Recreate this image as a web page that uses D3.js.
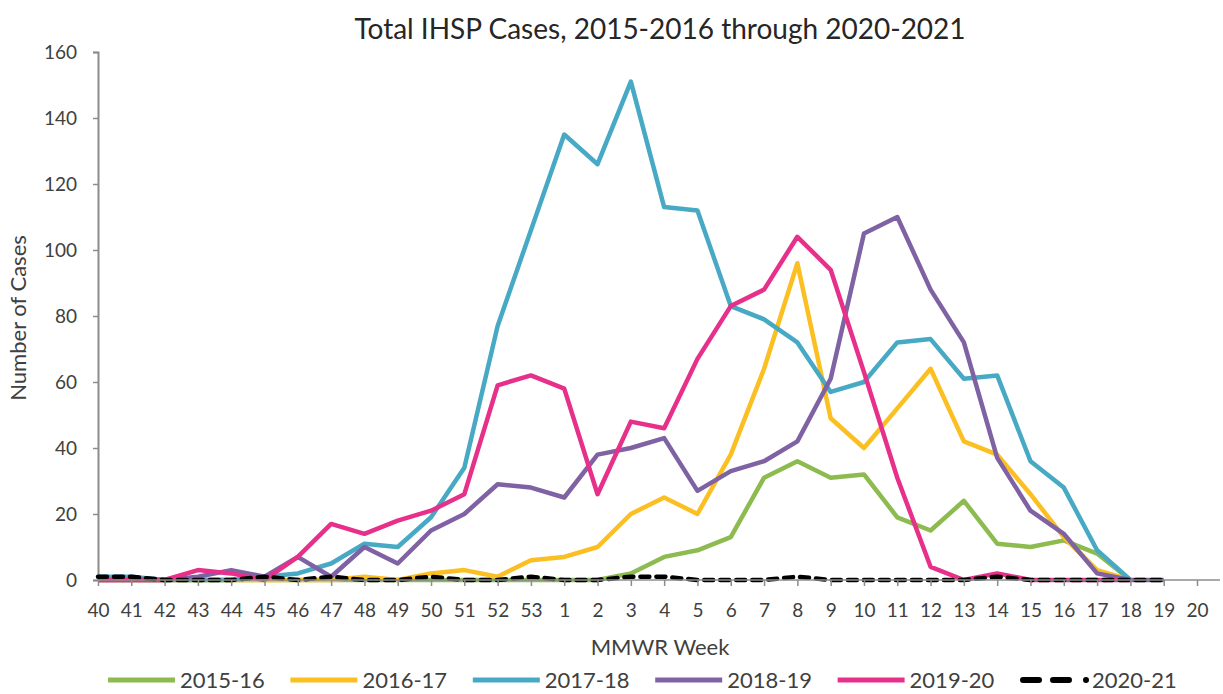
<!DOCTYPE html>
<html>
<head>
<meta charset="utf-8">
<script src="https://cdn.jsdelivr.net/npm/d3@7/dist/d3.min.js"></script>
<style>
  html, body { margin: 0; padding: 0; background: #fff; }
  svg { display: block; font-family: Lato, "Open Sans", sans-serif; }
</style>
</head>
<body>
<svg id="chart" width="1223" height="694"></svg>
<script>
// MMWR weeks, season runs from week 40 through week 20
const weeks = ["40","41","42","43","44","45","46","47","48","49","50","51","52","53",
  "1","2","3","4","5","6","7","8","9","10","11","12","13","14","15","16","17","18","19","20"];

const yTicks = [0, 20, 40, 60, 80, 100, 120, 140, 160];

const cases2015_16 = [0,0,0,0,0,0,0,0,0,0,0,0,0,0, 0,0,2,7,9,13,31,36,31,32,19,15,24,11,10,12,8,0];
const cases2016_17 = [0,0,0,0,0,0,0,0,1,0,2,3,1,6, 7,10,20,25,20,38,64,96,49,40,52,64,42,38,26,13,3,0];
const cases2017_18 = [1,1,0,0,0,1,2,5,11,10,19,34,77,106, 135,126,151,113,112,83,79,72,57,60,72,73,61,62,36,28,9,0];
const cases2018_19 = [0,0,0,1,3,1,7,1,10,5,15,20,29,28, 25,38,40,43,27,33,36,42,61,105,110,88,72,37,21,14,2,0,0];
const cases2019_20 = [0,0,0,3,2,0,7,17,14,18,21,26,59,62, 58,26,48,46,67,83,88,104,94,63,31,4,0,2,0,0,0,0];
const cases2020_21 = [1,1,0,0,0,1,0,1,0,0,1,0,0,1, 0,0,1,1,0,0,0,1,0,0,0,0,0,1,0,0,0,0,0];

const seasons = [
  { name: "2015-16", values: cases2015_16, color: "#8dbb4f", dash: null },
  { name: "2016-17", values: cases2016_17, color: "#fcbf22", dash: null },
  { name: "2017-18", values: cases2017_18, color: "#48a9c5", dash: null },
  { name: "2018-19", values: cases2018_19, color: "#7f62a3", dash: null },
  { name: "2019-20", values: cases2019_20, color: "#e6308a", dash: null },
  { name: "2020-21", values: cases2020_21, color: "#000000", dash: "9,7" }
];

const svg = d3.select("#chart");
const axisColor = "#8c8c8c";
const textColor = "#404040";
const font = "Lato, 'Open Sans', sans-serif";

const x = d3.scalePoint().domain(weeks).range([98, 1197]);
const y = d3.scaleLinear().domain([0, 160]).range([580, 52]);

// Title
svg.append("text")
  .attr("x", 660).attr("y", 39)
  .attr("text-anchor", "middle")
  .attr("font-size", 28)
  .attr("fill", "#262626")
  .text("Total IHSP Cases, 2015-2016 through 2020-2021");

// Y axis
const yAxis = svg.append("g")
  .attr("transform", "translate(98,0)")
  .call(d3.axisLeft(y).tickValues(yTicks).tickSize(5).tickPadding(16));
yAxis.select(".domain").attr("stroke", axisColor).attr("stroke-width", 2);
yAxis.selectAll(".tick line").attr("stroke", axisColor).attr("stroke-width", 1.5);
yAxis.selectAll(".tick text").attr("fill", textColor).attr("font-size", 19)
  .attr("font-family", font);

// Series lines
const line = d3.line()
  .x((d, i) => x(weeks[i]))
  .y(d => y(d));

svg.append("g").selectAll("path")
  .data(seasons)
  .join("path")
  .attr("d", s => line(s.values))
  .attr("fill", "none")
  .attr("stroke", s => s.color)
  .attr("stroke-width", 4.5)
  .attr("stroke-linejoin", "round")
  .attr("stroke-linecap", s => s.dash ? "round" : "butt")
  .attr("stroke-dasharray", s => s.dash);

// X axis (drawn over the lines like the category axis)
const xAxis = svg.append("g")
  .attr("transform", "translate(0,580)")
  .call(d3.axisBottom(x).tickSizeInner(6).tickSizeOuter(0).tickPadding(18));
xAxis.select(".domain").attr("stroke", axisColor).attr("stroke-width", 1.5)
  .attr("d", "M98,0H1220");
xAxis.selectAll(".tick line").attr("stroke", axisColor).attr("stroke-width", 1.5);
xAxis.selectAll(".tick text").attr("fill", textColor).attr("font-size", 19)
  .attr("font-family", font);

// Axis titles
svg.append("text")
  .attr("x", 660).attr("y", 655)
  .attr("text-anchor", "middle")
  .attr("font-size", 22)
  .attr("fill", textColor)
  .text("MMWR Week");

svg.append("text")
  .attr("transform", "translate(26,318) rotate(-90)")
  .attr("text-anchor", "middle")
  .attr("font-size", 22)
  .attr("fill", textColor)
  .text("Number of Cases");

// Legend
const legend = svg.append("g").attr("transform", "translate(108,680)");
const item = legend.selectAll("g")
  .data(seasons)
  .join("g")
  .attr("transform", (d, i) => `translate(${i * 182.4},0)`);
item.append("line")
  .attr("x1", d => d.dash ? 3 : 0).attr("x2", 67)
  .attr("y1", 0).attr("y2", 0)
  .attr("stroke", d => d.color)
  .attr("stroke-width", d => d.dash ? 6 : 5)
  .attr("stroke-linecap", d => d.dash ? "round" : "butt")
  .attr("stroke-dasharray", d => d.dash ? "16,14,16,17,0,30" : null);
item.append("text")
  .attr("x", 72).attr("y", 8)
  .attr("font-size", 22)
  .attr("fill", textColor)
  .text(d => d.name);
</script>
</body>
</html>
